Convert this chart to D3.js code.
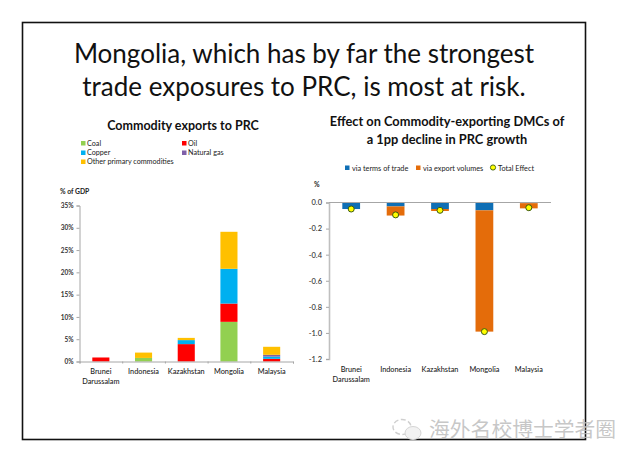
<!DOCTYPE html>
<html>
<head>
<meta charset="utf-8">
<title>Commodity exposure to PRC</title>
<script src="https://d3js.org/d3.v7.min.js"></script>
<style>
body { margin: 0; background: #fff; }
text { font-family: Lato, 'Open Sans', sans-serif; fill: #222; }
.axis path, .axis line { stroke: #a6a6a6; }
.tick text { font-size: 6.5px; font-weight: 700; fill: #333; }
</style>
</head>
<body>
<div id="my_dataviz"></div>
<script>
// left chart: commodity exports to PRC, % of GDP
var countries = ["Brunei Darussalam", "Indonesia", "Kazakhstan", "Mongolia", "Malaysia"];
var exportKeys = ["Coal", "Oil", "Copper", "Natural gas", "Other primary commodities"];
var exportColors = ["#92d050", "#ff0000", "#00b0f0", "#7f5fa8", "#ffc000"];
var coal = [0, 0.8, 0, 8.9, 0];
var oil = [0.9, 0, 3.9, 4.1, 0.6];
var copper = [0, 0, 0.9, 7.8, 0.5];
var naturalGas = [0, 0, 0, 0, 0.4];
var otherPrimary = [0, 1.2, 0.5, 8.3, 1.8];
var exportTicks = [0, 5, 10, 15, 20, 25, 30, 35];

// right chart: effect of a 1pp decline in PRC growth
var termsOfTrade = [-0.05, -0.03, -0.05, -0.06, -0.005];
var exportVolumes = [0, -0.07, -0.015, -0.93, -0.04];
var totalEffect = [-0.05, -0.095, -0.06, -0.99, -0.04];
var effectTicks = [0, -0.2, -0.4, -0.6, -0.8, -1.0, -1.2];

var svg = d3.select("#my_dataviz").append("svg")
  .attr("width", 640).attr("height", 462)
  .style("display", "block");

// slide frame
svg.append("rect")
  .attr("x", 22.5).attr("y", 22.5)
  .attr("width", 563).attr("height", 417)
  .style("fill", "#fff").style("stroke", "#111").style("stroke-width", 1.6);

// slide title
svg.selectAll(".slideTitle")
  .data(["Mongolia, which has by far the strongest", "trade exposures to PRC, is most at risk."])
  .enter().append("text")
  .attr("x", 304)
  .attr("y", function(d, i) { return 63 + i * 33; })
  .attr("text-anchor", "middle")
  .style("font-size", "26px")
  .style("fill", "#111")
  .text(function(d) { return d; });

// two-line category labels under the bars
function categoryLabels(x, y0) {
  svg.selectAll(null).data(countries).enter().append("text")
    .attr("transform", function(d) { return "translate(" + (x(d) + x.bandwidth() / 2) + "," + y0 + ")"; })
    .attr("text-anchor", "middle")
    .style("font-size", "7.3px")
    .style("font-weight", 500)
    .each(function(d) {
      var el = d3.select(this);
      d.split(" ").forEach(function(w, i) {
        el.append("tspan").attr("x", 0).attr("dy", i ? 10 : 0).text(w);
      });
    });
}

// ---- left chart ----
var x1 = d3.scaleBand().domain(countries).range([79.5, 293]).paddingInner(0.6).paddingOuter(0.3);
var y1 = d3.scaleLinear().domain([0, 35]).range([361.5, 205.5]);

var rows = countries.map(function(c, i) {
  return { country: c, "Coal": coal[i], "Oil": oil[i], "Copper": copper[i],
           "Natural gas": naturalGas[i], "Other primary commodities": otherPrimary[i] };
});
var layers = d3.stack().keys(exportKeys)(rows);

svg.selectAll(".layer").data(layers).enter().append("g")
  .style("fill", function(d, i) { return exportColors[i]; })
  .selectAll("rect").data(function(d) { return d; }).enter().append("rect")
  .attr("x", function(d) { return x1(d.data.country); })
  .attr("y", function(d) { return y1(d[1]); })
  .attr("width", x1.bandwidth())
  .attr("height", function(d) { return y1(d[0]) - y1(d[1]); });

svg.append("g").attr("class", "axis")
  .attr("transform", "translate(79.5,0)")
  .call(d3.axisLeft(y1).tickValues(exportTicks).tickSize(3).tickPadding(3)
    .tickFormat(function(d) { return d + "%"; }));

var xEdges1 = d3.scaleLinear().domain([0, 5]).range(x1.range());
svg.append("g").attr("class", "axis")
  .attr("transform", "translate(0,361.5)")
  .call(d3.axisBottom(xEdges1).ticks(5).tickSize(2).tickFormat(""));

categoryLabels(x1, 374);

svg.append("text").attr("x", 183).attr("y", 130)
  .attr("text-anchor", "middle")
  .style("font-size", "12.5px").style("font-weight", 700).style("fill", "#111")
  .text("Commodity exports to PRC");

svg.append("text").attr("x", 60).attr("y", 194)
  .style("font-size", "6.8px").style("font-weight", 700)
  .text("% of GDP");

var legendPos1 = [[81, 145], [182, 145], [81, 154.5], [182, 154.5], [81, 163.5]];
var leg1 = svg.selectAll(".leg1").data(exportKeys).enter().append("g")
  .attr("transform", function(d, i) { return "translate(" + legendPos1[i] + ")"; });
leg1.append("rect").attr("y", -4).attr("width", 4.5).attr("height", 4.5)
  .style("fill", function(d, i) { return exportColors[i]; });
leg1.append("text").attr("x", 6).attr("y", 0.5)
  .style("font-size", "7.2px")
  .text(function(d) { return d; });

// ---- right chart ----
var x2 = d3.scaleBand().domain(countries).range([329, 551]).paddingInner(0.6).paddingOuter(0.3);
var y2 = d3.scaleLinear().domain([-1.2, 0]).range([359, 202.5]);

svg.selectAll(".terms").data(termsOfTrade).enter().append("rect")
  .attr("x", function(d, i) { return x2(countries[i]); })
  .attr("y", y2(0))
  .attr("width", x2.bandwidth())
  .attr("height", function(d) { return y2(d) - y2(0); })
  .style("fill", "#0f6fb5");

svg.selectAll(".volumes").data(exportVolumes).enter().append("rect")
  .attr("x", function(d, i) { return x2(countries[i]); })
  .attr("y", function(d, i) { return y2(termsOfTrade[i]); })
  .attr("width", x2.bandwidth())
  .attr("height", function(d) { return y2(d) - y2(0); })
  .style("fill", "#e46c0a");

svg.append("g").attr("class", "axis")
  .attr("transform", "translate(329,0)")
  .call(d3.axisLeft(y2).tickValues(effectTicks).tickSize(3).tickPadding(4)
    .tickFormat(d3.format(".1f")))
  .call(function(g) {
    g.select(".domain").style("stroke-width", 1.6).style("stroke", "#bfbfbf");
    g.selectAll(".tick text").style("font-size", "7.5px").style("font-weight", 500)
      .text(function(d) { return d3.format(".1f")(d).replace("\u2212", "-"); });
  });

svg.append("line").attr("x1", 329).attr("x2", 551)
  .attr("y1", y2(0)).attr("y2", y2(0))
  .style("stroke", "#a6a6a6");

svg.selectAll(".total").data(totalEffect).enter().append("circle")
  .attr("cx", function(d, i) { return x2(countries[i]) + x2.bandwidth() / 2; })
  .attr("cy", function(d) { return y2(d); })
  .attr("r", 3)
  .style("fill", "#ffff00").style("stroke", "#3a5a10").style("stroke-width", 1);

categoryLabels(x2, 372);

svg.selectAll(".effectTitle")
  .data(["Effect on Commodity-exporting DMCs of", "a 1pp decline in PRC growth"])
  .enter().append("text")
  .attr("x", 447)
  .attr("y", function(d, i) { return 126 + i * 18; })
  .attr("text-anchor", "middle")
  .style("font-size", "12.8px").style("font-weight", 700).style("fill", "#111")
  .text(function(d) { return d; });

svg.append("text").attr("x", 314).attr("y", 187)
  .style("font-size", "6.8px").style("font-weight", 700)
  .text("%");

var legendLabels2 = ["via terms of trade", "via export volumes"];
var legendColors2 = ["#0f6fb5", "#e46c0a"];
var legendX2 = [345, 416];
legendLabels2.forEach(function(t, i) {
  svg.append("rect").attr("x", legendX2[i]).attr("y", 165.5)
    .attr("width", 4.5).attr("height", 4.5).style("fill", legendColors2[i]);
  svg.append("text").attr("x", legendX2[i] + 7).attr("y", 170.5)
    .style("font-size", "7.3px").text(t);
});
svg.append("circle").attr("cx", 493).attr("cy", 167.5).attr("r", 2.6)
  .style("fill", "#ffff00").style("stroke", "#3a5a10").style("stroke-width", 0.9);
svg.append("text").attr("x", 498).attr("y", 170.5)
  .style("font-size", "7.3px").text("Total Effect");

// watermark over the frame corner
var mark = svg.append("g").attr("transform", "translate(402,429)");
mark.append("ellipse").attr("cx", 0).attr("cy", -2).attr("rx", 9).attr("ry", 7.5)
  .style("fill", "none").style("stroke", "#cfcfcf").style("stroke-width", 1.4).style("stroke-dasharray", "5 2.5");
mark.append("ellipse").attr("cx", 11).attr("cy", 4).attr("rx", 8).attr("ry", 6.5)
  .style("fill", "#f2f2f2").style("stroke", "#d5d5d5");
svg.append("text").attr("x", 429).attr("y", 437)
  .style("font-family", "'Noto Sans CJK SC', sans-serif")
  .style("font-size", "20.8px")
  .style("fill", "#bdbdbd")
  .style("fill-opacity", 0.85)
  .text("海外名校博士学者圈");
</script>
</body>
</html>
